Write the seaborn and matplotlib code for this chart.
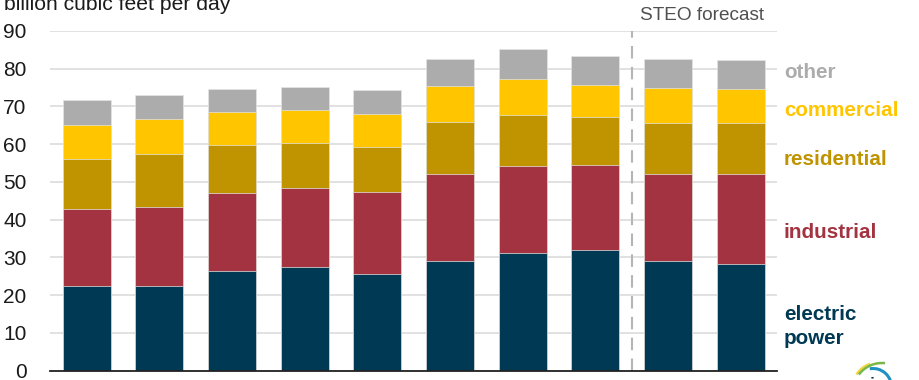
import pandas as pd
import seaborn as sns
import matplotlib.pyplot as plt
from matplotlib.patches import Arc

# data (billion cubic feet per day, top of each layer)
positions = ['a', 'b', 'c', 'd', 'e', 'f', 'g', 'h', 'i', 'j']
electric_top = [22.4, 22.4, 26.3, 27.4, 25.5, 29.1, 31.1, 31.9, 29.1, 28.3]
industrial_top = [42.7, 43.3, 47.0, 48.5, 47.2, 52.0, 54.2, 54.5, 52.2, 52.2]
residential_top = [56.2, 57.3, 59.7, 60.4, 59.2, 65.8, 67.8, 67.2, 65.7, 65.5]
commercial_top = [65.2, 66.7, 68.4, 69.0, 68.0, 75.4, 77.4, 75.7, 74.9, 74.5]
other_top = [71.7, 73.0, 74.6, 75.1, 74.4, 82.5, 85.2, 83.5, 82.5, 82.3]
y_ticks = [0, 10, 20, 30, 40, 50, 60, 70, 80, 90]

NAVY = '#003953'
RED = '#a33340'
DARK_GOLD = '#c09400'
YELLOW = '#ffc600'
GREY = '#acacac'

sns.set_theme(style='white')
plt.rcParams['font.family'] = ['Liberation Sans', 'DejaVu Sans']

df = pd.DataFrame({'pos': positions, 'electric': electric_top, 'industrial': industrial_top,
                   'residential': residential_top, 'commercial': commercial_top, 'other': other_top})

fig = plt.figure(figsize=(9.2, 3.8), dpi=100)
ax = fig.add_axes([50.2 / 920, 1 - 370.5 / 380, 727 / 920, 339.5 / 380])

# tallest first, so each layer paints over the one above it
for col, colour in [('other', GREY), ('commercial', YELLOW), ('residential', DARK_GOLD),
                    ('industrial', RED), ('electric', NAVY)]:
    sns.barplot(data=df, x='pos', y=col, color=colour, saturation=1, width=0.66,
                edgecolor='#e4e4e4', linewidth=0.5, zorder=3, ax=ax)

ax.set_xlim(-0.5, 9.5)
ax.set_ylim(0, 90)
ax.set_yticks(y_ticks)
ax.set_xticks([])
ax.set_xlabel('')
ax.set_ylabel('')
ax.tick_params(axis='y', length=0, pad=17, labelsize=15, labelcolor='#1a1a1a')
ax.grid(axis='y', color='#dedede', linewidth=1.3, zorder=0)
ax.set_axisbelow(True)
sns.despine(ax=ax, left=True, top=True, right=True)
ax.spines['bottom'].set_color('#222222')
ax.spines['bottom'].set_linewidth(1.3)
ax.spines['bottom'].set_zorder(5)

# forecast divider
ax.axvline(7.5, color='#b5b5b5', linewidth=1.5, dashes=(6, 4), zorder=4)


def px_text(x, y, s, **kw):
    fig.text(x / 920, 1 - y / 380, s, va='center', ha='left', **kw)


px_text(4, 4, 'billion cubic feet per day', fontsize=15.2, color='#1a1a1a')
px_text(640, 15, 'STEO forecast', fontsize=13.7, color='#505050')
px_text(784, 72, 'other', fontsize=14.9, fontweight='bold', color=GREY)
px_text(784, 111, 'commercial', fontsize=14.9, fontweight='bold', color=YELLOW)
px_text(784, 159, 'residential', fontsize=14.9, fontweight='bold', color=DARK_GOLD)
px_text(784, 232, 'industrial', fontsize=14.9, fontweight='bold', color=RED)
px_text(784, 314, 'electric', fontsize=14.9, fontweight='bold', color=NAVY)
px_text(784, 339, 'power', fontsize=14.9, fontweight='bold', color=NAVY)

# clipped logo in the bottom corner
logo = fig.add_axes([0, 0, 1, 1], facecolor='none')
logo.set_xlim(0, 920)
logo.set_ylim(380, 0)
logo.axis('off')
logo.add_patch(Arc((878, 388), 51, 51, theta1=212, theta2=252, color='#f2d53c', lw=1.6))
logo.add_patch(Arc((882, 392), 58, 58, theta1=217, theta2=276, color='#7ab648', lw=1.8))
logo.add_patch(Arc((873, 387), 37, 37, theta1=260, theta2=365, color='#1f8fc4', lw=2.2))
logo.text(873, 377, 'eia', fontsize=12, fontweight='bold', color='#003953', ha='center', va='top')

plt.savefig('out.png', dpi=100)
plt.close()
